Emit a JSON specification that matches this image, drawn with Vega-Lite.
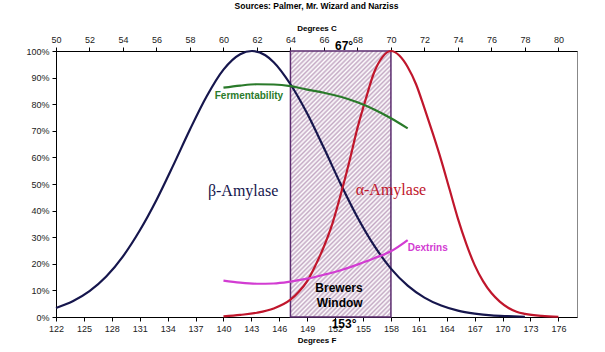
{
  "$schema": "https://vega.github.io/schema/vega-lite/v6.json",
  "width": 521,
  "height": 266,
  "autosize": {"type": "none"},
  "padding": {"left": 56, "top": 51, "right": 28, "bottom": 35},
  "background": "#ffffff",
  "title": {"text": "Sources: Palmer, Mr. Wizard and Narziss", "font": "Liberation Sans", "fontSize": 8.5, "fontWeight": "bold", "color": "#000000", "anchor": "middle", "offset": 14},
  "config": {
    "view": {"stroke": "#888888", "strokeWidth": 1},
    "axis": {"domainColor": "#000000", "tickColor": "#000000", "labelFont": "Liberation Sans", "labelFontSize": 9, "labelColor": "#222222", "titleFont": "Liberation Sans", "titleFontSize": 8, "titleFontWeight": "bold", "titleColor": "#000000", "grid": false, "tickSize": 4, "labelPadding": 3, "titlePadding": 3, "labelFlush": false, "labelOverlap": false}
  },
  "datasets": {
    "curves": [
      {"s": "beta", "c": 50, "v": 3.4}, {"s": "beta", "c": 51, "v": 5.9}, {"s": "beta", "c": 52, "v": 9.7}, {"s": "beta", "c": 53, "v": 15.2}, {"s": "beta", "c": 54, "v": 22.8}, {"s": "beta", "c": 55, "v": 32.5}, {"s": "beta", "c": 56, "v": 44}, {"s": "beta", "c": 57, "v": 57}, {"s": "beta", "c": 58, "v": 70.5}, {"s": "beta", "c": 59, "v": 83}, {"s": "beta", "c": 60, "v": 93}, {"s": "beta", "c": 61, "v": 98.8}, {"s": "beta", "c": 61.7, "v": 100}, {"s": "beta", "c": 62.5, "v": 98.4}, {"s": "beta", "c": 63, "v": 95.8}, {"s": "beta", "c": 64, "v": 87.5}, {"s": "beta", "c": 65, "v": 76.5}, {"s": "beta", "c": 66, "v": 63.5}, {"s": "beta", "c": 67, "v": 50}, {"s": "beta", "c": 68, "v": 37.5}, {"s": "beta", "c": 69, "v": 26.8}, {"s": "beta", "c": 70, "v": 18.2}, {"s": "beta", "c": 71, "v": 11.8}, {"s": "beta", "c": 72, "v": 7.3}, {"s": "beta", "c": 73, "v": 4.3}, {"s": "beta", "c": 74, "v": 2.4}, {"s": "beta", "c": 75, "v": 1.3}, {"s": "beta", "c": 76, "v": 0.6}, {"s": "beta", "c": 77, "v": 0.3}, {"s": "beta", "c": 78, "v": 0.1},
      {"s": "alpha", "c": 60, "v": 0.2}, {"s": "alpha", "c": 61, "v": 0.8}, {"s": "alpha", "c": 62, "v": 1.6}, {"s": "alpha", "c": 63, "v": 3.2}, {"s": "alpha", "c": 64, "v": 6.5}, {"s": "alpha", "c": 64.5, "v": 9.5}, {"s": "alpha", "c": 65, "v": 13.5}, {"s": "alpha", "c": 65.5, "v": 19.5}, {"s": "alpha", "c": 66, "v": 26.5}, {"s": "alpha", "c": 66.5, "v": 35}, {"s": "alpha", "c": 67, "v": 46}, {"s": "alpha", "c": 67.5, "v": 58}, {"s": "alpha", "c": 68, "v": 71}, {"s": "alpha", "c": 68.5, "v": 82}, {"s": "alpha", "c": 69, "v": 92}, {"s": "alpha", "c": 69.5, "v": 97.8}, {"s": "alpha", "c": 70, "v": 100}, {"s": "alpha", "c": 70.5, "v": 98.3}, {"s": "alpha", "c": 71, "v": 94}, {"s": "alpha", "c": 71.5, "v": 87.5}, {"s": "alpha", "c": 72, "v": 78.5}, {"s": "alpha", "c": 72.5, "v": 69}, {"s": "alpha", "c": 73, "v": 59}, {"s": "alpha", "c": 73.5, "v": 48}, {"s": "alpha", "c": 74, "v": 37}, {"s": "alpha", "c": 74.5, "v": 27.5}, {"s": "alpha", "c": 75, "v": 19.5}, {"s": "alpha", "c": 75.5, "v": 13.5}, {"s": "alpha", "c": 76, "v": 9}, {"s": "alpha", "c": 76.5, "v": 5.8}, {"s": "alpha", "c": 77, "v": 3.5}, {"s": "alpha", "c": 77.5, "v": 2}, {"s": "alpha", "c": 78, "v": 1.2}, {"s": "alpha", "c": 79, "v": 0.4}, {"s": "alpha", "c": 80, "v": 0.1},
      {"s": "ferm", "c": 60, "v": 86.2}, {"s": "ferm", "c": 61, "v": 87}, {"s": "ferm", "c": 62, "v": 87.5}, {"s": "ferm", "c": 63, "v": 87.4}, {"s": "ferm", "c": 64, "v": 86.8}, {"s": "ferm", "c": 65, "v": 85.5}, {"s": "ferm", "c": 66, "v": 84.3}, {"s": "ferm", "c": 67, "v": 82.8}, {"s": "ferm", "c": 68, "v": 80.7}, {"s": "ferm", "c": 69, "v": 78}, {"s": "ferm", "c": 70, "v": 74.7}, {"s": "ferm", "c": 71, "v": 70.9},
      {"s": "dext", "c": 60, "v": 13.7}, {"s": "dext", "c": 61, "v": 12.9}, {"s": "dext", "c": 62, "v": 12.5}, {"s": "dext", "c": 63, "v": 12.6}, {"s": "dext", "c": 64, "v": 13.3}, {"s": "dext", "c": 65, "v": 14.4}, {"s": "dext", "c": 66, "v": 15.9}, {"s": "dext", "c": 67, "v": 17.6}, {"s": "dext", "c": 68, "v": 19.7}, {"s": "dext", "c": 69, "v": 22.1}, {"s": "dext", "c": 70, "v": 24.7}, {"s": "dext", "c": 71, "v": 28.9}
    ]
  },
  "layer": [
    {
      "data": {"values": [{"c0": 64, "c1": 70}]},
      "mark": {
        "type": "rect",
        "stroke": "#5b2c6f",
        "strokeWidth": 1.5,
        "fill": {
          "gradient": "linear", "x1": 0, "y1": 0, "x2": 0.4557, "y2": 1.2057,
          "stops": [
            {"offset": 0, "color": "#c4a9c4"}, {"offset": 0.00625, "color": "#fff"}, {"offset": 0.0125, "color": "#c4a9c4"}, {"offset": 0.01875, "color": "#fff"}, {"offset": 0.025, "color": "#c4a9c4"}, {"offset": 0.03125, "color": "#fff"}, {"offset": 0.0375, "color": "#c4a9c4"}, {"offset": 0.04375, "color": "#fff"}, {"offset": 0.05, "color": "#c4a9c4"}, {"offset": 0.05625, "color": "#fff"}, {"offset": 0.0625, "color": "#c4a9c4"}, {"offset": 0.06875, "color": "#fff"}, {"offset": 0.075, "color": "#c4a9c4"}, {"offset": 0.08125, "color": "#fff"}, {"offset": 0.0875, "color": "#c4a9c4"}, {"offset": 0.09375, "color": "#fff"},
            {"offset": 0.1, "color": "#c4a9c4"}, {"offset": 0.10625, "color": "#fff"}, {"offset": 0.1125, "color": "#c4a9c4"}, {"offset": 0.11875, "color": "#fff"}, {"offset": 0.125, "color": "#c4a9c4"}, {"offset": 0.13125, "color": "#fff"}, {"offset": 0.1375, "color": "#c4a9c4"}, {"offset": 0.14375, "color": "#fff"}, {"offset": 0.15, "color": "#c4a9c4"}, {"offset": 0.15625, "color": "#fff"}, {"offset": 0.1625, "color": "#c4a9c4"}, {"offset": 0.16875, "color": "#fff"}, {"offset": 0.175, "color": "#c4a9c4"}, {"offset": 0.18125, "color": "#fff"}, {"offset": 0.1875, "color": "#c4a9c4"}, {"offset": 0.19375, "color": "#fff"},
            {"offset": 0.2, "color": "#c4a9c4"}, {"offset": 0.20625, "color": "#fff"}, {"offset": 0.2125, "color": "#c4a9c4"}, {"offset": 0.21875, "color": "#fff"}, {"offset": 0.225, "color": "#c4a9c4"}, {"offset": 0.23125, "color": "#fff"}, {"offset": 0.2375, "color": "#c4a9c4"}, {"offset": 0.24375, "color": "#fff"}, {"offset": 0.25, "color": "#c4a9c4"}, {"offset": 0.25625, "color": "#fff"}, {"offset": 0.2625, "color": "#c4a9c4"}, {"offset": 0.26875, "color": "#fff"}, {"offset": 0.275, "color": "#c4a9c4"}, {"offset": 0.28125, "color": "#fff"}, {"offset": 0.2875, "color": "#c4a9c4"}, {"offset": 0.29375, "color": "#fff"},
            {"offset": 0.3, "color": "#c4a9c4"}, {"offset": 0.30625, "color": "#fff"}, {"offset": 0.3125, "color": "#c4a9c4"}, {"offset": 0.31875, "color": "#fff"}, {"offset": 0.325, "color": "#c4a9c4"}, {"offset": 0.33125, "color": "#fff"}, {"offset": 0.3375, "color": "#c4a9c4"}, {"offset": 0.34375, "color": "#fff"}, {"offset": 0.35, "color": "#c4a9c4"}, {"offset": 0.35625, "color": "#fff"}, {"offset": 0.3625, "color": "#c4a9c4"}, {"offset": 0.36875, "color": "#fff"}, {"offset": 0.375, "color": "#c4a9c4"}, {"offset": 0.38125, "color": "#fff"}, {"offset": 0.3875, "color": "#c4a9c4"}, {"offset": 0.39375, "color": "#fff"},
            {"offset": 0.4, "color": "#c4a9c4"}, {"offset": 0.40625, "color": "#fff"}, {"offset": 0.4125, "color": "#c4a9c4"}, {"offset": 0.41875, "color": "#fff"}, {"offset": 0.425, "color": "#c4a9c4"}, {"offset": 0.43125, "color": "#fff"}, {"offset": 0.4375, "color": "#c4a9c4"}, {"offset": 0.44375, "color": "#fff"}, {"offset": 0.45, "color": "#c4a9c4"}, {"offset": 0.45625, "color": "#fff"}, {"offset": 0.4625, "color": "#c4a9c4"}, {"offset": 0.46875, "color": "#fff"}, {"offset": 0.475, "color": "#c4a9c4"}, {"offset": 0.48125, "color": "#fff"}, {"offset": 0.4875, "color": "#c4a9c4"}, {"offset": 0.49375, "color": "#fff"},
            {"offset": 0.5, "color": "#c4a9c4"}, {"offset": 0.50625, "color": "#fff"}, {"offset": 0.5125, "color": "#c4a9c4"}, {"offset": 0.51875, "color": "#fff"}, {"offset": 0.525, "color": "#c4a9c4"}, {"offset": 0.53125, "color": "#fff"}, {"offset": 0.5375, "color": "#c4a9c4"}, {"offset": 0.54375, "color": "#fff"}, {"offset": 0.55, "color": "#c4a9c4"}, {"offset": 0.55625, "color": "#fff"}, {"offset": 0.5625, "color": "#c4a9c4"}, {"offset": 0.56875, "color": "#fff"}, {"offset": 0.575, "color": "#c4a9c4"}, {"offset": 0.58125, "color": "#fff"}, {"offset": 0.5875, "color": "#c4a9c4"}, {"offset": 0.59375, "color": "#fff"},
            {"offset": 0.6, "color": "#c4a9c4"}, {"offset": 0.60625, "color": "#fff"}, {"offset": 0.6125, "color": "#c4a9c4"}, {"offset": 0.61875, "color": "#fff"}, {"offset": 0.625, "color": "#c4a9c4"}, {"offset": 0.63125, "color": "#fff"}, {"offset": 0.6375, "color": "#c4a9c4"}, {"offset": 0.64375, "color": "#fff"}, {"offset": 0.65, "color": "#c4a9c4"}, {"offset": 0.65625, "color": "#fff"}, {"offset": 0.6625, "color": "#c4a9c4"}, {"offset": 0.66875, "color": "#fff"}, {"offset": 0.675, "color": "#c4a9c4"}, {"offset": 0.68125, "color": "#fff"}, {"offset": 0.6875, "color": "#c4a9c4"}, {"offset": 0.69375, "color": "#fff"},
            {"offset": 0.7, "color": "#c4a9c4"}, {"offset": 0.70625, "color": "#fff"}, {"offset": 0.7125, "color": "#c4a9c4"}, {"offset": 0.71875, "color": "#fff"}, {"offset": 0.725, "color": "#c4a9c4"}, {"offset": 0.73125, "color": "#fff"}, {"offset": 0.7375, "color": "#c4a9c4"}, {"offset": 0.74375, "color": "#fff"}, {"offset": 0.75, "color": "#c4a9c4"}, {"offset": 0.75625, "color": "#fff"}, {"offset": 0.7625, "color": "#c4a9c4"}, {"offset": 0.76875, "color": "#fff"}, {"offset": 0.775, "color": "#c4a9c4"}, {"offset": 0.78125, "color": "#fff"}, {"offset": 0.7875, "color": "#c4a9c4"}, {"offset": 0.79375, "color": "#fff"},
            {"offset": 0.8, "color": "#c4a9c4"}, {"offset": 0.80625, "color": "#fff"}, {"offset": 0.8125, "color": "#c4a9c4"}, {"offset": 0.81875, "color": "#fff"}, {"offset": 0.825, "color": "#c4a9c4"}, {"offset": 0.83125, "color": "#fff"}, {"offset": 0.8375, "color": "#c4a9c4"}, {"offset": 0.84375, "color": "#fff"}, {"offset": 0.85, "color": "#c4a9c4"}, {"offset": 0.85625, "color": "#fff"}, {"offset": 0.8625, "color": "#c4a9c4"}, {"offset": 0.86875, "color": "#fff"}, {"offset": 0.875, "color": "#c4a9c4"}, {"offset": 0.88125, "color": "#fff"}, {"offset": 0.8875, "color": "#c4a9c4"}, {"offset": 0.89375, "color": "#fff"},
            {"offset": 0.9, "color": "#c4a9c4"}, {"offset": 0.90625, "color": "#fff"}, {"offset": 0.9125, "color": "#c4a9c4"}, {"offset": 0.91875, "color": "#fff"}, {"offset": 0.925, "color": "#c4a9c4"}, {"offset": 0.93125, "color": "#fff"}, {"offset": 0.9375, "color": "#c4a9c4"}, {"offset": 0.94375, "color": "#fff"}, {"offset": 0.95, "color": "#c4a9c4"}, {"offset": 0.95625, "color": "#fff"}, {"offset": 0.9625, "color": "#c4a9c4"}, {"offset": 0.96875, "color": "#fff"}, {"offset": 0.975, "color": "#c4a9c4"}, {"offset": 0.98125, "color": "#fff"}, {"offset": 0.9875, "color": "#c4a9c4"}, {"offset": 0.99375, "color": "#fff"},
            {"offset": 1, "color": "#c4a9c4"}
          ]
        }
      },
      "encoding": {
        "x": {"field": "c0", "type": "quantitative", "scale": {"domain": [50, 81.111], "nice": false, "zero": false},
              "axis": {"orient": "bottom", "title": "Degrees F", "values": [50, 51.6667, 53.3333, 55, 56.6667, 58.3333, 60, 61.6667, 63.3333, 65, 66.6667, 68.3333, 70, 71.6667, 73.3333, 75, 76.6667, 78.3333, 80], "labelExpr": "format(datum.value * 1.8 + 32, '.0f')"}},
        "x2": {"field": "c1"},
        "y": {"datum": 0, "type": "quantitative", "scale": {"domain": [0, 100], "nice": false, "zero": false},
              "axis": {"title": null, "values": [0, 10, 20, 30, 40, 50, 60, 70, 80, 90, 100], "labelExpr": "datum.value + '%'"}},
        "y2": {"datum": 100}
      }
    },
    {
      "data": {"name": "curves"},
      "mark": {"type": "line", "interpolate": "monotone", "strokeWidth": 2.2},
      "encoding": {
        "x": {"field": "c", "type": "quantitative",
              "axis": {"orient": "top", "title": "Degrees C", "values": [50, 52, 54, 56, 58, 60, 62, 64, 66, 68, 70, 72, 74, 76, 78, 80], "format": "d"}},
        "y": {"field": "v", "type": "quantitative", "axis": {"title": null, "values": [0, 10, 20, 30, 40, 50, 60, 70, 80, 90, 100], "labelExpr": "datum.value + '%'"}},
        "color": {"field": "s", "type": "nominal", "legend": null,
                  "scale": {"domain": ["beta", "alpha", "ferm", "dext"], "range": ["#16164d", "#c0162c", "#2a7a2a", "#d23cd2"]}}
      }
    },
    {
      "mark": {"type": "rule", "color": "#000000", "strokeWidth": 1.3, "strokeDash": [5, 3]},
      "encoding": {"x": {"datum": 67, "axis": null}}
    },
    {
      "data": {"values": [
        {"t": "Fermentability", "c": 61.52, "v": 83.1, "k": "ferm"},
        {"t": "Dextrins", "c": 72.2, "v": 26.05, "k": "dext"}
      ]},
      "mark": {"type": "text", "font": "Liberation Sans", "fontSize": 10, "fontWeight": "bold", "baseline": "middle", "align": "center"},
      "encoding": {
        "x": {"field": "c", "type": "quantitative", "axis": null},
        "y": {"field": "v", "type": "quantitative", "axis": {"title": null, "values": [0, 10, 20, 30, 40, 50, 60, 70, 80, 90, 100], "labelExpr": "datum.value + '%'"}},
        "text": {"field": "t"},
        "color": {"field": "k", "type": "nominal", "legend": null}
      }
    },
    {
      "data": {"values": [
        {"t": "β-Amylase", "c": 61.17, "v": 47.5, "k": "beta"},
        {"t": "α-Amylase", "c": 70.0, "v": 47.7, "k": "alpha"}
      ]},
      "mark": {"type": "text", "font": "Liberation Serif", "fontSize": 16, "baseline": "middle", "align": "center"},
      "encoding": {
        "x": {"field": "c", "type": "quantitative", "axis": null},
        "y": {"field": "v", "type": "quantitative", "axis": {"title": null, "values": [0, 10, 20, 30, 40, 50, 60, 70, 80, 90, 100], "labelExpr": "datum.value + '%'"}},
        "text": {"field": "t"},
        "color": {"field": "k", "type": "nominal", "legend": null}
      }
    },
    {
      "data": {"values": [
        {"t": "Brewers", "c": 66.9, "v": 11.0},
        {"t": "Window", "c": 66.94, "v": 5.4},
        {"t": "67°", "c": 67.2, "v": 102},
        {"t": "153°", "c": 67.2, "v": -2.7}
      ]},
      "mark": {"type": "text", "font": "Liberation Sans", "fontSize": 12, "fontWeight": "bold", "baseline": "middle", "align": "center", "color": "#000000"},
      "encoding": {
        "x": {"field": "c", "type": "quantitative", "axis": null},
        "y": {"field": "v", "type": "quantitative", "axis": {"title": null, "values": [0, 10, 20, 30, 40, 50, 60, 70, 80, 90, 100], "labelExpr": "datum.value + '%'"}},
        "text": {"field": "t"}
      }
    }
  ],
  "resolve": {"axis": {"x": "independent"}}
}
